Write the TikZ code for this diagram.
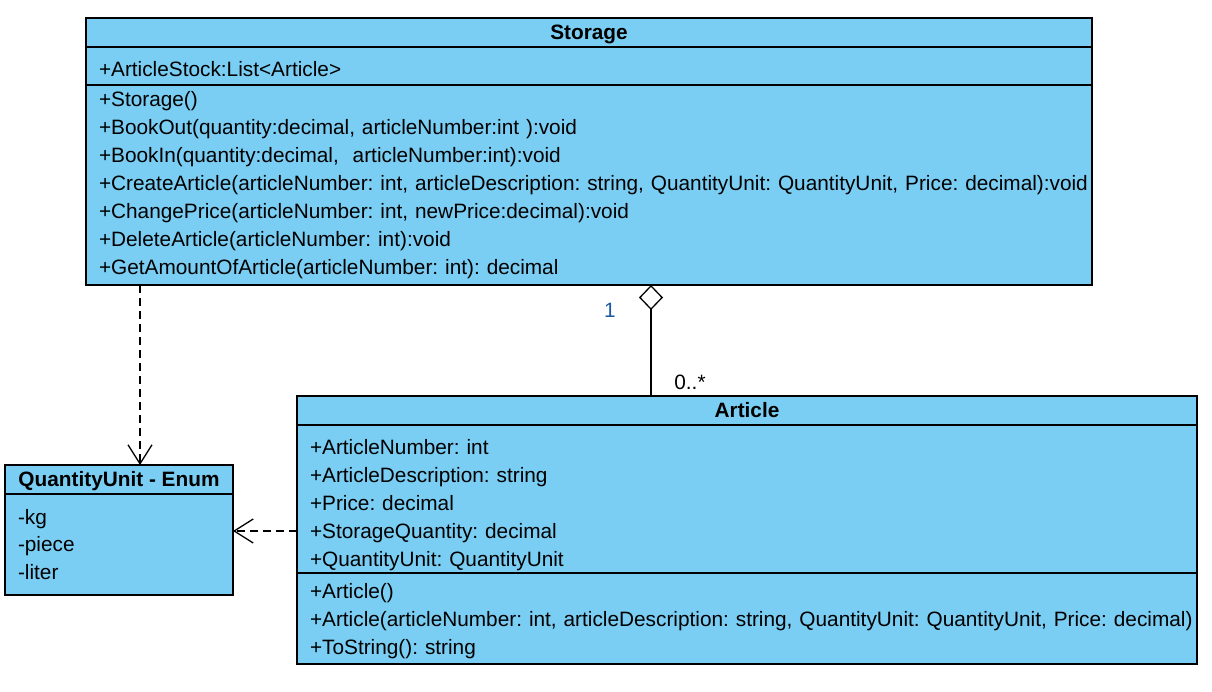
\documentclass[tikz,border=0pt]{standalone}
\usepackage{fontspec}
\setmainfont{Liberation Sans}
\usetikzlibrary{positioning,arrows.meta}
\definecolor{classblue}{RGB}{122,206,244}
\definecolor{multblue}{RGB}{30,90,160}
\frenchspacing

\begin{document}
\begin{tikzpicture}[x=1pt, y=-1pt, node distance=0pt, line width=1.3pt,
  every node/.style={font=\fontsize{20.8}{28}\selectfont},
  head/.style={draw, fill=classblue, inner sep=0pt, outer sep=0pt, minimum height=29pt, text height=15pt, text depth=2pt, font=\fontsize{20.8}{28}\selectfont\bfseries},
  part/.style={draw, fill=classblue, align=left, inner xsep=13pt, inner ysep=0pt, outer sep=0pt},
  lower/.style={execute at begin node={\rule{0pt}{#1}}},
  dep/.style={dashed, dash pattern=on 8pt off 5pt, -{Straight Barb[length=19pt, width=24pt, line width=1.3pt]}},
  aggr/.style={-{Diamond[open, fill=white, length=25pt, width=24pt, line width=1.3pt]}}]
  \useasboundingbox (0,0) rectangle (1212,691);

  % Classes
  \node (StorageHead) [head, anchor=north west, minimum width=1006pt] at (86,18) {Storage};
  \node (StorageAttr) [part, below=of StorageHead, text width=980pt, minimum height=38pt, lower=21pt] {+ArticleStock:List<Article>};
  \node (StorageMeth) [part, below=of StorageAttr, text width=980pt, minimum height=200pt] {+Storage()\\
    +BookOut(quantity:decimal, articleNumber:int ):void\\
    +BookIn(quantity:decimal, \ articleNumber:int):void\\
    \mbox{+CreateArticle(articleNumber: int, articleDescription: string, QuantityUnit: QuantityUnit, Price: decimal):void}\\
    +ChangePrice(articleNumber: int, newPrice:decimal):void\\
    +DeleteArticle(articleNumber: int):void\\
    +GetAmountOfArticle(articleNumber: int): decimal};

  \node (ArticleHead) [head, anchor=north west, minimum width=900pt] at (297,396) {Article};
  \node (ArticleAttr) [part, below=of ArticleHead, text width=874pt, minimum height=148pt, lower=27pt] {+ArticleNumber: int\\
    +ArticleDescription: string\\
    +Price: decimal\\
    +StorageQuantity: decimal\\
    +QuantityUnit: QuantityUnit};
  \node (ArticleMeth) [part, below=of ArticleAttr, text width=874pt, minimum height=91pt, lower=20pt] {+Article()\\
    \mbox{+Article(articleNumber: int, articleDescription: string, QuantityUnit: QuantityUnit, Price: decimal)}\\
    +ToString(): string};

  \node (QUHead) [head, anchor=north west, minimum width=228pt] at (5,465) {QuantityUnit - Enum};
  \node (QUBody) [part, below=of QUHead, text width=202pt, minimum height=101pt, font=\fontsize{20.8}{27.5}\selectfont] {-kg\\
    -piece\\
    -liter};

  % Relationships
  \coordinate (useA) at (140,285);
  \coordinate (useB) at (297,531);
  \coordinate (whole) at (651,285);
  \draw[dep] (useA) -- (useA |- QUHead.north);
  \draw[dep] (useB) -- (useB -| QUBody.east);
  \draw[aggr] (whole |- ArticleHead.north) -- (whole);
  \node (multWhole) [text=multblue] at (610,310) {1};
  \node (multPart) at (690,382) {0..*};
\end{tikzpicture}
\end{document}
